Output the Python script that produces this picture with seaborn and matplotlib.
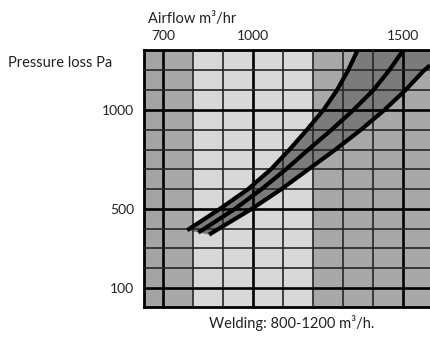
import numpy as np
import pandas as pd
import matplotlib
matplotlib.use('Agg')
import matplotlib.pyplot as plt
import seaborn as sns

# Curve data (airflow m3/hr vs pressure loss Pa)
airflow_a = [781, 890, 984, 1060, 1122, 1180, 1235, 1280, 1317, 1348]
pressure_a = [392, 500, 600, 700, 800, 900, 1000, 1100, 1200, 1300]

airflow_b = [818, 940, 1029, 1110, 1185, 1262, 1335, 1401, 1454, 1500]
pressure_b = [380, 500, 600, 700, 800, 900, 1000, 1100, 1200, 1300]

airflow_c = [854, 996, 1095, 1185, 1275, 1360, 1438, 1508, 1570, 1590]
pressure_c = [370, 500, 600, 700, 800, 900, 1000, 1100, 1200, 1225]

# Background column bands (airflow ranges) and their shades
band_edges = [637, 700, 800, 1200, 1600]
band_colors = ['#a4a4a4', '#a8a8a8', '#d8d8d8', '#a8a8a8']

x_major = [700, 1000, 1500]
y_major = [100, 500, 1000]

sns.set_style('white')
plt.rcParams['font.family'] = ['Lato', 'DejaVu Sans']

fig = plt.figure(figsize=(4.30, 3.38), dpi=100)
ax = fig.add_axes([144 / 430, 1 - 307 / 338, 289 / 430, 257 / 338])

xlim = (band_edges[0], band_edges[-1])
ylim = (4, 1303)

# shaded columns
for i, c in enumerate(band_colors):
    ax.axvspan(band_edges[i], band_edges[i + 1], color=c, lw=0, zorder=0)

# dark area between outer curves
poly_x = airflow_a + [xlim[1]] + airflow_c[::-1]
poly_y = pressure_a + [ylim[1]] + pressure_c[::-1]
ax.fill(poly_x, poly_y, color='#7b7b7b', lw=0, zorder=1)

# grid
ax.set_xticks(x_major)
ax.set_xticks(np.arange(800, 1600, 100), minor=True)
ax.set_yticks(y_major)
ax.set_yticks(np.arange(200, 1300, 100), minor=True)
ax.grid(which='minor', color='#262626', lw=1.2, zorder=2)
ax.grid(which='major', color='black', lw=1.9, zorder=2)
ax.set_axisbelow(False)

# curves
df = pd.DataFrame({
    'airflow': airflow_a + airflow_b + airflow_c,
    'pressure': pressure_a + pressure_b + pressure_c,
    'curve': ['a'] * len(airflow_a) + ['b'] * len(airflow_b) + ['c'] * len(airflow_c),
})
sns.lineplot(data=df, x='airflow', y='pressure', hue='curve', sort=False,
             palette=['black'] * 3, lw=3.0, legend=False, ax=ax, zorder=3,
             estimator=None)
for line in ax.lines:
    line.set_solid_capstyle('butt')
    line.set_solid_joinstyle('round')

ax.set_xlim(xlim)
ax.set_ylim(ylim)
ax.set_xlabel('')
ax.set_ylabel('')

ax.xaxis.tick_top()
ax.tick_params(which='both', length=0)
ax.tick_params(axis='x', pad=6, labelsize=10, colors='#222222')
ax.tick_params(axis='y', pad=7, labelsize=10, colors='#222222')

for s in ax.spines.values():
    s.set_color('black')
    s.set_linewidth(2.0)
    s.set_visible(True)

fig.text(192 / 430, 1 - 19 / 338, 'Airflow m³/hr', ha='center', va='center',
         fontsize=10.5, color='#222222')
fig.text(8 / 430, 1 - 63 / 338, 'Pressure loss Pa', ha='left', va='center',
         fontsize=10.5, color='#222222')
fig.text(292 / 430, 1 - 323 / 338, 'Welding: 800-1200 m³/h.', ha='center',
         va='center', fontsize=10.5, color='#222222')

fig.savefig('out.png', dpi=100)
